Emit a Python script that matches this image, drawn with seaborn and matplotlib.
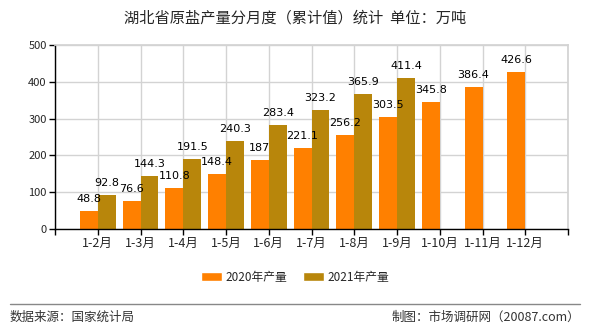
import matplotlib
matplotlib.use("Agg")
import matplotlib.pyplot as plt
import seaborn as sns
import pandas as pd
import numpy as np

categories = ["1-2月", "1-3月", "1-4月", "1-5月", "1-6月", "1-7月", "1-8月", "1-9月", "1-10月", "1-11月", "1-12月"]
values_2020 = [48.8, 76.6, 110.8, 148.4, 187, 221.1, 256.2, 303.5, 345.8, 386.4, 426.6]
values_2021 = [92.8, 144.3, 191.5, 240.3, 283.4, 323.2, 365.9, 411.4, None, None, None]
series_names = ["2020年产量", "2021年产量"]

sns.set_theme(style="white")
plt.rcParams["font.family"] = ["Noto Sans CJK SC", "DejaVu Sans"]

rows = []
for c, a, b in zip(categories, values_2020, values_2021):
    rows.append({"月份": c, "系列": series_names[0], "产量": a})
    rows.append({"月份": c, "系列": series_names[1], "产量": np.nan if b is None else b})
df = pd.DataFrame(rows)

colors = ["#FF8000", "#B8860B"]

fig = plt.figure(figsize=(5.9, 3.3), dpi=100)
ax = fig.add_axes([55 / 590, 1 - 229 / 330, (568 - 55) / 590, (229 - 45) / 330])

sns.barplot(data=df, x="月份", y="产量", hue="系列", hue_order=series_names,
            palette=colors, width=0.84, gap=0, linewidth=0, ax=ax, legend=False,
            saturation=1, order=categories)

# value labels
for bar in ax.patches:
    h = bar.get_height()
    if h is None or not np.isfinite(h) or h <= 0:
        continue
    txt = f"{h:g}"
    ax.annotate(txt, (bar.get_x() + bar.get_width() / 2, h), xytext=(0, 5),
                textcoords="offset points", ha="center", va="bottom",
                fontsize=8, color="black", family=["DejaVu Sans"])

ax.set_xlim(-1, 11)
ax.set_ylim(0, 500)
ax.set_yticks([0, 100, 200, 300, 400, 500])
ax.set_xticks(range(-1, 12))
ax.set_xticklabels([""] + categories + [""])
ax.tick_params(axis="y", labelsize=8)
ax.tick_params(axis="x", labelsize=9)
ax.tick_params(axis="both", length=4, width=1, color="black",
               direction="out", bottom=True, left=True, pad=2)
ax.set_xlabel("")
ax.set_ylabel("")

ax.grid(True, color="#D3D3D3", linewidth=1)
ax.set_axisbelow(True)
for side in ["top", "right"]:
    ax.spines[side].set_color("#D3D3D3")
for side in ["left", "bottom"]:
    ax.spines[side].set_color("black")
    ax.spines[side].set_linewidth(1)

# title
fig.text(0.5, 1 - 18 / 330, "湖北省原盐产量分月度（累计值）统计  单位：万吨",
         ha="center", va="center", fontsize=11)

# legend
from matplotlib.patches import Patch
handles = [Patch(facecolor=colors[0]), Patch(facecolor=colors[1])]
fig.legend(handles, series_names, loc="center", bbox_to_anchor=(0.5, 1 - 277 / 330),
           ncol=2, frameon=False, fontsize=8.5, handlelength=1.8, handleheight=0.7,
           columnspacing=1.3, handletextpad=0.3)

# separator line
fig.add_artist(plt.Line2D([10 / 590, 580 / 590], [1 - 304 / 330, 1 - 304 / 330],
                          transform=fig.transFigure, color="#888888", linewidth=1))

fig.text(10 / 590, 1 - 317 / 330, "数据来源：国家统计局", ha="left", va="center",
         fontsize=9, color="#333333")
fig.text(580 / 590, 1 - 317 / 330, "制图：市场调研网（20087.com）", ha="right", va="center",
         fontsize=9, color="#333333")

fig.savefig("out.png", dpi=100)
